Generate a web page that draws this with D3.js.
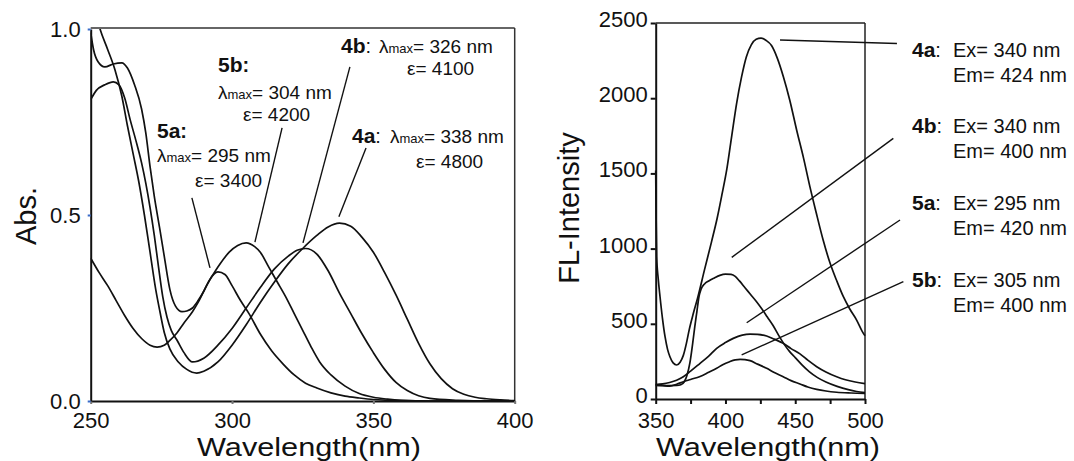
<!DOCTYPE html>
<html>
<head>
<meta charset="utf-8">
<script src="https://cdn.jsdelivr.net/npm/d3@7"></script>
<style>
  body { margin: 0; background: #fff; }
  svg text { white-space: pre; }
</style>
</head>
<body>
<div id="chart"></div>
<script>
// absorbance spectra, [wavelength (nm), Abs]
const abs4a = [[250,1.10],[251.5,1.05],[253.3,1.0],[256,0.945],[258.6,0.89],[261,0.82],[263,0.74],[265,0.665],[267,0.59],[269,0.50],[271,0.40],[273,0.30],[274.5,0.24],[276,0.185],[278,0.14],[281,0.105],[284,0.085],[287.5,0.075],[290,0.08],[295,0.105],[300,0.15],[305,0.205],[310,0.265],[315,0.32],[320,0.37],[325,0.41],[330,0.445],[334,0.468],[338,0.478],[342,0.47],[346,0.44],[350,0.40],[354,0.345],[358,0.285],[362,0.22],[366,0.155],[370,0.10],[374,0.06],[378,0.033],[382,0.018],[386,0.01],[390,0.006],[395,0.003],[400,0.001]];
const abs4b = [[250,0.81],[252,0.835],[255,0.85],[258,0.858],[260,0.85],[262,0.815],[264,0.755],[266,0.70],[268,0.64],[269.5,0.585],[271,0.52],[272.5,0.445],[274,0.36],[275.5,0.28],[277,0.225],[278.5,0.19],[280.5,0.164],[283,0.13],[286,0.105],[290,0.115],[295,0.15],[300,0.195],[305,0.25],[310,0.305],[315,0.355],[320,0.39],[323,0.405],[326,0.41],[330,0.395],[334,0.35],[338,0.29],[342,0.235],[346,0.18],[350,0.13],[354,0.085],[358,0.05],[362,0.028],[366,0.014],[370,0.007],[380,0.002],[390,0],[400,0]];
const abs5a = [[250,0.99],[251,0.945],[252.6,0.912],[255,0.898],[258,0.906],[261,0.909],[263,0.895],[265.5,0.85],[268,0.785],[269.5,0.72],[271,0.63],[272.5,0.55],[274.5,0.46],[276,0.39],[278,0.30],[280,0.255],[282.3,0.24],[284,0.242],[286,0.25],[288,0.27],[290,0.295],[292,0.325],[295,0.347],[297.5,0.34],[300,0.31],[303,0.27],[306,0.235],[310,0.18],[314,0.135],[318,0.10],[322,0.07],[326,0.048],[330,0.035],[335,0.022],[340,0.013],[345,0.008],[350,0.004],[360,0.001],[370,0],[400,0]];
const abs5b = [[250,0.384],[253,0.345],[256,0.31],[259,0.27],[262,0.23],[265,0.195],[268,0.168],[271,0.15],[273.5,0.145],[276,0.15],[278,0.163],[280.5,0.183],[283,0.21],[286,0.24],[288,0.265],[291,0.31],[295,0.36],[299,0.40],[302,0.418],[305,0.425],[308,0.415],[310,0.40],[313,0.36],[316,0.32],[319,0.28],[322,0.235],[325,0.19],[328,0.145],[331,0.105],[335,0.07],[340,0.04],[345,0.02],[350,0.01],[355,0.005],[360,0.002],[370,0],[400,0]];

// fluorescence spectra, [wavelength (nm), intensity]
const fl4a = [[350,1520],[350.3,1200],[350.7,946],[351.8,800],[353.1,680],[354.8,540],[356.7,414],[358.5,330],[360.2,281],[362.5,240],[365,226],[367.5,245],[369.8,290],[372,370],[374,460],[377,570],[380,670],[385,860],[390,1045],[394,1200],[397.5,1360],[401,1530],[404.5,1750],[408,1966],[411.5,2140],[415,2276],[418.5,2355],[422,2392],[425.5,2400],[429,2385],[433,2350],[437,2270],[441.5,2143],[446,1990],[451,1789],[456,1600],[460.5,1412],[465,1240],[470,1057],[475,902],[480,780],[484.5,680],[489,600],[494,525],[498,450],[500,420]];
const fl4b = [[350,95],[355,91],[360,89],[365,90],[368,95],[370.5,115],[372.5,160],[374.5,240],[376.5,370],[378,480],[379.5,580],[381,680],[382.5,730],[385,765],[388,785],[392,805],[396,822],[400,830],[404,828],[407,815],[410,785],[414,740],[418,695],[422,650],[426,600],[430,545],[434,490],[438,425],[442,365],[446,315],[450,275],[455,225],[460,182],[466,142],[472,113],[480,84],[488,62],[494,50],[500,42]];
const fl5a = [[350,95],[355,100],[360,110],[365,125],[369.8,148],[375,185],[381.8,237],[388,285],[393.7,337],[400,375],[405.6,403],[412,425],[417.6,432],[423,430],[429.5,419],[435,398],[441.4,370],[447,335],[453.4,300],[459,258],[465.4,215],[472,180],[479.7,148],[486,128],[493,113],[500,102]];
const fl5b = [[350,90],[355,88],[360,86],[365,98],[369.8,115],[375,130],[381.8,150],[388,178],[393.7,204],[398,228],[403,248],[407,260],[410.5,264],[414,262],[417.6,255],[423,232],[429.5,204],[435,176],[441.4,148],[447,122],[453.4,100],[459,80],[465.4,64],[472,53],[479.7,45],[490,40],[500,37]];

const absXTicks = [250, 300, 350, 400];
const absYTicks = [0, 0.5, 1.0];
const flXTicks = [350, 375, 400, 425, 450, 475, 500];
const flXLabels = [350, 400, 450, 500];
const flYTicks = [0, 500, 1000, 1500, 2000, 2500];

const compounds = ["4a", "4b", "5a", "5b"];
const lambdaMax = [338, 326, 295, 304];
const epsilon = [4800, 4100, 3400, 4200];
const exWave = [340, 340, 295, 305];
const emWave = [424, 400, 420, 400];

// leader lines, data units of each panel
const absLeaders = [
  [[347.4, 0.68], [337.8, 0.495]],
  [[341.7, 0.898], [325.1, 0.425]],
  [[285.8, 0.546], [292.2, 0.358]],
  [[317.7, 0.734], [308.1, 0.427]]
];
const flLeaders = [
  [[439.1, 2387], [522.9, 2364]],
  [[404.5, 942], [520.3, 1733]],
  [[415.2, 507], [525.1, 1190]],
  [[411.6, 293], [527.5, 780]]
];

const FONT = "'Liberation Sans', Arial, sans-serif";
const INK = "#111";

const svg = d3
  .select("#chart")
  .append("svg")
  .attr("width", 1074)
  .attr("height", 461)
  .attr("font-family", FONT);

const xAbs = d3.scaleLinear().domain([250, 400]).range([90.7, 514.7]);
const yAbs = d3.scaleLinear().domain([0, 1]).range([401, 29]);
const xFl = d3.scaleLinear().domain([350, 500]).range([655.7, 865]);
const yFl = d3.scaleLinear().domain([0, 2500]).range([399, 23]);

function styleAxis(g, tickColor) {
  g.attr("font-family", FONT).attr("font-size", 22);
  g.select(".domain").attr("stroke", INK).attr("stroke-width", 2);
  g.selectAll(".tick line").attr("stroke", tickColor).attr("stroke-width", 2);
  g.selectAll(".tick text").attr("fill", INK);
}

// ---------- left panel: absorbance ----------
svg.append("defs").append("clipPath").attr("id", "clipAbs")
  .append("rect")
  .attr("x", xAbs(250)).attr("y", yAbs(1))
  .attr("width", xAbs(400) - xAbs(250)).attr("height", yAbs(0) - yAbs(1));

const frameAbs = svg.append("g").attr("stroke", "#333").attr("stroke-width", 1.5);
frameAbs.append("line")
  .attr("x1", xAbs(250)).attr("x2", xAbs(400))
  .attr("y1", yAbs(1) - 1).attr("y2", yAbs(1) - 1);
frameAbs.append("line")
  .attr("x1", xAbs(400)).attr("x2", xAbs(400))
  .attr("y1", yAbs(1) - 1).attr("y2", yAbs(0));

svg.append("g")
  .attr("transform", `translate(0,${yAbs(0)})`)
  .call(d3.axisBottom(xAbs).tickValues(absXTicks).tickSize(3).tickSizeOuter(0).tickPadding(8))
  .call((g) => styleAxis(g, "#777"));

svg.append("g")
  .attr("transform", `translate(${xAbs(250)},0)`)
  .call(d3.axisLeft(yAbs).tickValues(absYTicks).tickFormat(d3.format(".1f")).tickSize(3).tickSizeOuter(0).tickPadding(7))
  .call((g) => styleAxis(g, "#3b6cc9"));

const lineAbs = d3.line()
  .curve(d3.curveMonotoneX)
  .x((d) => xAbs(d[0]))
  .y((d) => yAbs(d[1]));

svg.append("g")
  .attr("clip-path", "url(#clipAbs)")
  .selectAll("path")
  .data([abs4a, abs4b, abs5a, abs5b])
  .join("path")
  .attr("fill", "none")
  .attr("stroke", INK)
  .attr("stroke-width", 1.7)
  .attr("d", lineAbs);

svg.append("g")
  .selectAll("line")
  .data(absLeaders)
  .join("line")
  .attr("x1", (d) => xAbs(d[0][0])).attr("y1", (d) => yAbs(d[0][1]))
  .attr("x2", (d) => xAbs(d[1][0])).attr("y2", (d) => yAbs(d[1][1]))
  .attr("stroke", INK)
  .attr("stroke-width", 1.4);

svg.append("text")
  .attr("transform", "translate(36,216) rotate(-90)")
  .attr("text-anchor", "middle")
  .attr("font-size", 29)
  .attr("fill", INK)
  .text("Abs.");

svg.append("text")
  .attr("x", 309).attr("y", 456)
  .attr("text-anchor", "middle")
  .attr("font-size", 26)
  .attr("textLength", 224)
  .attr("lengthAdjust", "spacingAndGlyphs")
  .attr("fill", INK)
  .text("Wavelength(nm)");

function head(x, y, name, colonBold) {
  const t = svg.append("text").attr("x", x).attr("y", y).attr("fill", INK).attr("font-size", 20);
  t.append("tspan").attr("font-weight", "bold").attr("font-size", 21).text(name);
  t.append("tspan").attr("font-weight", colonBold ? "bold" : null).text(":");
}
function lambdaText(x, y, val) {
  const t = svg.append("text").attr("x", x).attr("y", y).attr("fill", INK).attr("font-size", 19);
  t.append("tspan").text("λ");
  t.append("tspan").attr("font-size", 13).text("max");
  t.append("tspan").text(`= ${val} nm`);
}
function epsText(x, y, val) {
  svg.append("text").attr("x", x).attr("y", y).attr("fill", INK).attr("font-size", 19)
    .text(`ε= ${val}`);
}

// 4a, 4b: one-line heads; 5a, 5b: stacked
head(352, 143, compounds[0], false);
lambdaText(390, 143, lambdaMax[0]);
epsText(416, 168, epsilon[0]);

head(341, 53, compounds[1], false);
lambdaText(379, 53, lambdaMax[1]);
epsText(407, 75, epsilon[1]);

head(157, 138, compounds[2], true);
lambdaText(157, 162, lambdaMax[2]);
epsText(195, 187, epsilon[2]);

head(218, 72, compounds[3], true);
lambdaText(218, 99, lambdaMax[3]);
epsText(243, 121, epsilon[3]);

// ---------- right panel: fluorescence ----------
const frameFl = svg.append("g").attr("stroke", "#222").attr("stroke-width", 1.5);
frameFl.append("line")
  .attr("x1", xFl(350)).attr("x2", xFl(500))
  .attr("y1", yFl(2500)).attr("y2", yFl(2500));
frameFl.append("line")
  .attr("x1", xFl(500)).attr("x2", xFl(500))
  .attr("y1", yFl(2500)).attr("y2", yFl(0));

svg.append("g")
  .attr("transform", `translate(0,${yFl(0)})`)
  .call(d3.axisBottom(xFl).tickValues(flXTicks)
    .tickFormat((d) => (flXLabels.includes(d) ? d : ""))
    .tickSize(5).tickSizeOuter(0).tickPadding(8))
  .call((g) => styleAxis(g, INK));

svg.append("g")
  .attr("transform", `translate(${xFl(350)},0)`)
  .call(d3.axisLeft(yFl).tickValues(flYTicks).tickFormat(d3.format("d")).tickSize(5).tickSizeOuter(0).tickPadding(3))
  .call((g) => styleAxis(g, INK))
  .call((g) => g.selectAll(".tick text").attr("dy", "0.16em"));

const lineFl = d3.line()
  .curve(d3.curveMonotoneX)
  .x((d) => xFl(d[0]))
  .y((d) => yFl(d[1]));

svg.append("g")
  .selectAll("path")
  .data([fl4a, fl4b, fl5a, fl5b])
  .join("path")
  .attr("fill", "none")
  .attr("stroke", INK)
  .attr("stroke-width", 1.7)
  .attr("d", lineFl);

svg.append("g")
  .selectAll("line")
  .data(flLeaders)
  .join("line")
  .attr("x1", (d) => xFl(d[0][0])).attr("y1", (d) => yFl(d[0][1]))
  .attr("x2", (d) => xFl(d[1][0])).attr("y2", (d) => yFl(d[1][1]))
  .attr("stroke", INK)
  .attr("stroke-width", 1.4);

svg.append("text")
  .attr("transform", "translate(579,208) rotate(-90)")
  .attr("text-anchor", "middle")
  .attr("font-size", 29)
  .attr("fill", INK)
  .text("FL-Intensity");

svg.append("text")
  .attr("x", 768).attr("y", 456)
  .attr("text-anchor", "middle")
  .attr("font-size", 26)
  .attr("textLength", 224)
  .attr("lengthAdjust", "spacingAndGlyphs")
  .attr("fill", INK)
  .text("Wavelength(nm)");

const flBase = [57, 133, 210, 287];
compounds.forEach((c, i) => {
  head(912, flBase[i], c, false);
  svg.append("text").attr("x", 953).attr("y", flBase[i])
    .attr("font-size", 20).attr("fill", INK).text(`Ex= ${exWave[i]} nm`);
  svg.append("text").attr("x", 953).attr("y", flBase[i] + 25)
    .attr("font-size", 20).attr("fill", INK).text(`Em= ${emWave[i]} nm`);
});
</script>
</body>
</html>
